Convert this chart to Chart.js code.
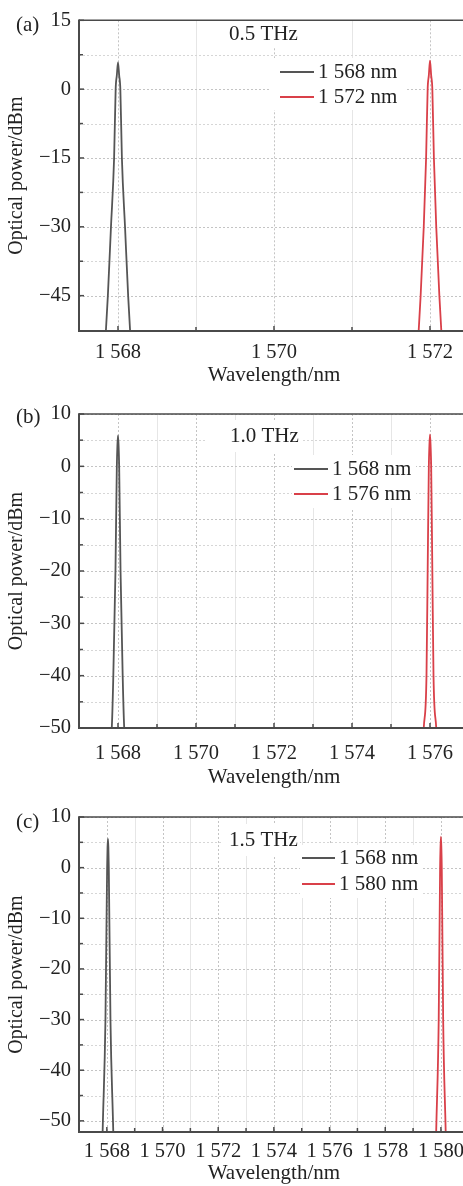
<!DOCTYPE html>
<html><head><meta charset="utf-8">
<script src="https://cdn.jsdelivr.net/npm/chart.js@4/dist/chart.umd.min.js"></script>
<style>
html,body{margin:0;padding:0;background:#fff;overflow:hidden;width:463px;height:1186px;position:relative}
canvas{position:absolute;left:0}
</style></head><body>
<canvas id="ca" width="469" height="390" style="top:0px"></canvas>
<canvas id="cb" width="469" height="400" style="top:390px"></canvas>
<canvas id="cc" width="471" height="396" style="top:790px"></canvas>
<script>
// ---------- data ----------
// Panel (a) 0.5 THz
const aGrayX = [1567.82,1567.87,1567.91,1567.95,1567.97,1567.985,1568.00,1568.015,1568.03,1568.05,1568.09,1568.13,1568.18];
const aGrayY = [-60,-45,-30,-15,0,3,5.8,3,0,-15,-30,-45,-60];
const aRedX  = [1571.83,1571.88,1571.92,1571.95,1571.97,1571.985,1572.00,1572.015,1572.03,1572.05,1572.08,1572.12,1572.17];
const aRedY  = [-60,-45,-30,-15,0,3,6.2,3,0,-15,-30,-45,-60];
// Panel (b) 1.0 THz
const bGrayX = [1567.0,1567.83,1567.84,1567.88,1567.935,1567.97,1567.985,1568.00,1568.015,1568.03,1568.065,1568.12,1568.16,1568.17,1577.0];
const bGrayY = [-50.4,-50.4,-50,-40,-20,0,4,5.9,4,0,-20,-40,-50,-50.4,-50.4];
const bRedX  = [1575.84,1575.91,1575.94,1575.97,1575.985,1576.00,1576.015,1576.03,1576.06,1576.09,1576.16];
const bRedY  = [-50,-40,-20,0,4,6.1,4,0,-20,-40,-50];
// Panel (c) 1.5 THz
const cGrayX = [1567.82,1567.85,1567.95,1568.01,1568.025,1568.04,1568.055,1568.07,1568.13,1568.23,1568.26];
const cGrayY = [-60,-52,-30,0,4,5.7,4,0,-30,-52,-60];
const cRedX  = [1579.80,1579.83,1579.92,1579.97,1579.985,1580.00,1580.015,1580.03,1580.08,1580.17,1580.20];
const cRedY  = [-60,-52,-30,0,4,6.1,4,0,-30,-52,-60];

const aXTicks = [1568,1570,1572];          const aXMinor = [1569,1571];
const aYTicks = [-45,-30,-15,0,15];        const aYMinor = [-37.5,-22.5,-7.5,7.5];
const bXTicks = [1568,1570,1572,1574,1576]; const bXMinor = [1569,1571,1573,1575];
const bYTicks = [-50,-40,-30,-20,-10,0,10]; const bYMinor = [-45,-35,-25,-15,-5,5];
const cXTicks = [1568,1570,1572,1574,1576,1578,1580]; const cXMinor = [1569,1571,1573,1575,1577,1579];
const cYTicks = [-50,-40,-30,-20,-10,0,10]; const cYMinor = [-45,-35,-25,-15,-5,5];

const GRAY = '#555555', RED = '#d94049';
const FONT = 'Liberation Serif';

function pts(xs, ys){ return xs.map((x,i)=>({x:x,y:ys[i]})); }
function fmtX(v){ return String(v).replace(/\B(?=(\d{3})+(?!\d))/g,' '); }
function fmtY(v){ return v<0 ? '\u2212'+Math.abs(v) : String(v); }

function decor(cfg){
  return {
    id:'decor',
    beforeDatasetsDraw(chart){
      const ctx=chart.ctx, a=chart.chartArea, xs=chart.scales.x, ys=chart.scales.y;
      ctx.save();
      ctx.lineWidth=1;
      // vertical minor: faint solid
      ctx.strokeStyle='#e6e6e6'; ctx.setLineDash([]);
      cfg.xMinor.forEach(v=>{const p=Math.round(xs.getPixelForValue(v))+0.5; ctx.beginPath(); ctx.moveTo(p,a.top); ctx.lineTo(p,a.bottom); ctx.stroke();});
      // horizontal minor: light dotted
      ctx.strokeStyle='#d6d6d6'; ctx.setLineDash([2,2]);
      cfg.yMinor.forEach(v=>{const p=Math.round(ys.getPixelForValue(v))+0.5; ctx.beginPath(); ctx.moveTo(a.left,p); ctx.lineTo(a.right,p); ctx.stroke();});
      // major dotted
      ctx.strokeStyle='#c4c4c4';
      cfg.xTicks.forEach(v=>{const p=Math.round(xs.getPixelForValue(v))+0.5; ctx.beginPath(); ctx.moveTo(p,a.top); ctx.lineTo(p,a.bottom); ctx.stroke();});
      cfg.yTicks.forEach(v=>{const p=Math.round(ys.getPixelForValue(v))+0.5; ctx.beginPath(); ctx.moveTo(a.left,p); ctx.lineTo(a.right,p); ctx.stroke();});
      ctx.setLineDash([]);
      // white boxes behind annotations
      ctx.fillStyle='#fff';
      cfg.boxes.forEach(b=>ctx.fillRect(b[0],b[1],b[2]-b[0],b[3]-b[1]));
      ctx.restore();
    },
    afterDatasetsDraw(chart){
      const ctx=chart.ctx, a=chart.chartArea, xs=chart.scales.x, ys=chart.scales.y;
      ctx.save();
      // frame
      ctx.strokeStyle='#4a4a4a';
      ctx.lineWidth=1.5;
      ctx.beginPath(); ctx.moveTo(a.left,a.top); ctx.lineTo(a.right,a.top); ctx.stroke();
      ctx.lineWidth=2;
      ctx.beginPath(); ctx.moveTo(a.left,a.top-0.75); ctx.lineTo(a.left,a.bottom); ctx.lineTo(a.right,a.bottom); ctx.stroke();
      // inward ticks
      ctx.lineWidth=1.5;
      const tk=(v,len,axis)=>{
        ctx.beginPath();
        if(axis==='x'){const p=xs.getPixelForValue(v); ctx.moveTo(p,a.bottom); ctx.lineTo(p,a.bottom-len);}
        else {const p=ys.getPixelForValue(v); ctx.moveTo(a.left,p); ctx.lineTo(a.left+len,p);}
        ctx.stroke();
      };
      cfg.xTicks.forEach(v=>tk(v,5,'x')); cfg.xMinor.forEach(v=>tk(v,4,'x'));
      cfg.yTicks.forEach(v=>tk(v,5,'y')); cfg.yMinor.forEach(v=>tk(v,4,'y'));
      // panel letter & title
      ctx.fillStyle='#222';
      ctx.font='21px "'+FONT+'"';
      ctx.textBaseline='middle'; ctx.textAlign='left';
      ctx.fillText(cfg.letter[0], cfg.letter[1], cfg.letter[2]);
      ctx.fillText(cfg.title[0], cfg.title[1], cfg.title[2]);
      // legend
      chart.data.datasets.forEach((ds,i)=>{
        const L=cfg.legend, y=L.y+i*L.dy;
        ctx.strokeStyle=ds.borderColor; ctx.lineWidth=2;
        ctx.beginPath(); ctx.moveTo(L.x0,y); ctx.lineTo(L.x1,y); ctx.stroke();
        ctx.fillStyle='#222';
        ctx.fillText(ds.label, L.x1+4, y);
      });
      ctx.restore();
    }
  };
}

function makeChart(id, o){
  return new Chart(document.getElementById(id), {
    type:'line',
    data:{datasets:[
      {label:o.labels[0], data:pts(o.gx,o.gy), borderColor:GRAY, borderWidth:1.8, pointRadius:0, cubicInterpolationMode:'monotone', fill:false},
      {label:o.labels[1], data:pts(o.rx,o.ry), borderColor:RED, borderWidth:1.8, pointRadius:0, cubicInterpolationMode:'monotone', fill:false}
    ]},
    options:{
      responsive:false, animation:false, devicePixelRatio:1,
      layout:{padding:{top:o.top,left:0,right:0,bottom:0}},
      plugins:{legend:{display:false}, tooltip:{enabled:false}},
      scales:{
        x:{type:'linear', min:o.xmin, max:o.xmax,
           grid:{display:false, drawTicks:false}, border:{display:false},
           afterBuildTicks:s=>{s.ticks=o.xTicks.map(v=>({value:v}));},
           afterFit:s=>{s.height=o.xh;},
           ticks:{callback:v=>fmtX(v), color:'#222', font:{family:FONT,size:20.5}, padding:o.xpad, maxRotation:0, minRotation:0, autoSkip:false},
           title:{display:true, text:'Wavelength/nm', color:'#222', font:{family:FONT,size:21}, padding:{top:0,bottom:o.tpad}}
        },
        y:{type:'linear', min:o.ymin, max:o.ymax,
           grid:{display:false, drawTicks:false}, border:{display:false},
           afterBuildTicks:s=>{s.ticks=o.yTicks.map(v=>({value:v}));},
           afterFit:s=>{s.width=79;},
           ticks:{callback:v=>fmtY(v), color:'#222', font:{family:FONT,size:20.5}, padding:8, autoSkip:false},
           title:{display:true, text:'Optical power/dBm', color:'#222', font:{family:FONT,size:20}, padding:{top:5,bottom:0}}
        }
      }
    },
    plugins:[decor(o.decor)]
  });
}

makeChart('ca',{labels:['1 568 nm','1 572 nm'], gx:aGrayX, gy:aGrayY, rx:aRedX, ry:aRedY,
  xmin:1567.5, xmax:1572.5, ymin:-52.7, ymax:15, top:15, xh:59, xpad:9, tpad:2,
  xTicks:aXTicks, yTicks:aYTicks,
  decor:{xTicks:aXTicks,xMinor:aXMinor,yTicks:aYTicks,yMinor:aYMinor,
    letter:['(a)',16,25], title:['0.5 THz',229,34],
    boxes:[[222,20,300,48],[270,58,405,110]],
    legend:{x0:280,x1:314,y:72,dy:25}}});

makeChart('cb',{labels:['1 568 nm','1 576 nm'], gx:bGrayX, gy:bGrayY, rx:bRedX, ry:bRedY,
  xmin:1567, xmax:1577, ymin:-50, ymax:10, top:24, xh:62, xpad:13, tpad:0,
  xTicks:bXTicks, yTicks:bYTicks,
  decor:{xTicks:bXTicks,xMinor:bXMinor,yTicks:bYTicks,yMinor:bYMinor,
    letter:['(b)',16,27], title:['1.0 THz',230,46],
    boxes:[[205,30,302,62],[292,65,416,118]],
    legend:{x0:294,x1:328,y:79,dy:25}}});

makeChart('cc',{labels:['1 568 nm','1 580 nm'], gx:cGrayX, gy:cGrayY, rx:cRedX, ry:cRedY,
  xmin:1567, xmax:1581, ymin:-52.2, ymax:10, top:27, xh:54, xpad:7, tpad:0,
  xTicks:cXTicks, yTicks:cYTicks,
  decor:{xTicks:cXTicks,xMinor:cXMinor,yTicks:cYTicks,yMinor:cYMinor,
    letter:['(c)',16,32], title:['1.5 THz',229,50],
    boxes:[[222,34,300,66],[300,55,422,108]],
    legend:{x0:302,x1:335,y:68,dy:26}}});
</script>
</body></html>
